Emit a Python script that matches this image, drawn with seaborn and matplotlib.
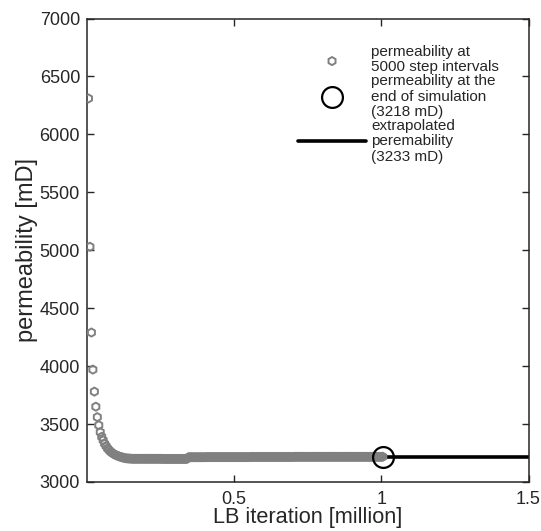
import numpy as np
import pandas as pd
import matplotlib
matplotlib.use('Agg')
import matplotlib.pyplot as plt
import seaborn as sns

# permeability sampled every 5000 LB steps (x in million steps)
steps = np.arange(1, 202) * 5000 / 1e6
perm = [
    6310, 5030, 4290, 3970, 3780, 3650, 3560, 3490, 3430, 3390,
    3360, 3330, 3310, 3290, 3275, 3262, 3252, 3243, 3236, 3230,
    3225, 3220, 3216, 3212, 3209, 3206, 3204, 3203, 3202, 3201,
    3200, 3200, 3200, 3200, 3200, 3200, 3200, 3200, 3200, 3200,
    3200, 3200, 3200, 3200, 3200, 3200, 3200, 3200, 3200, 3200,
    3199, 3199, 3199, 3199, 3199, 3199, 3199, 3199, 3199, 3199,
    3199, 3199, 3199, 3199, 3199, 3199, 3199, 3200, 3214, 3214,
    3214, 3214, 3214, 3214, 3214, 3214, 3214, 3214, 3214, 3214,
    3215, 3215, 3215, 3215, 3215, 3215, 3215, 3215, 3215, 3215,
    3215, 3215, 3215, 3215, 3215, 3215, 3215, 3215, 3215, 3215,
    3215, 3215, 3215, 3215, 3215, 3215, 3215, 3215, 3215, 3215,
    3216, 3216, 3216, 3216, 3216, 3216, 3216, 3216, 3216, 3216,
    3216, 3216, 3216, 3216, 3216, 3216, 3216, 3216, 3216, 3216,
    3216, 3216, 3216, 3216, 3216, 3216, 3216, 3216, 3216, 3216,
    3217, 3217, 3217, 3217, 3217, 3217, 3217, 3217, 3217, 3217,
    3217, 3217, 3217, 3217, 3217, 3217, 3217, 3217, 3217, 3217,
    3217, 3217, 3217, 3217, 3217, 3217, 3217, 3217, 3217, 3217,
    3217, 3217, 3217, 3217, 3217, 3217, 3217, 3217, 3217, 3217,
    3217, 3217, 3217, 3217, 3217, 3217, 3217, 3217, 3217, 3217,
    3217, 3217, 3217, 3217, 3217, 3217, 3217, 3217, 3217, 3217,
    3218,
]
end_x = [1.005]
end_perm = [3218]
extrap_x = [0.947, 1.5]
extrap_perm = [3218, 3218]

xticks = [0.5, 1, 1.5]
xticklabels = ['0.5', '1', '1.5']
yticks = [3000, 3500, 4000, 4500, 5000, 5500, 6000, 6500, 7000]

df = pd.DataFrame({'x': steps, 'k': perm})

sns.set_style("ticks")
plt.rcParams['font.family'] = ['Liberation Sans', 'DejaVu Sans']

fig = plt.figure(figsize=(5.41, 5.31), dpi=100)
ax = fig.add_axes([87 / 541, 49 / 531, 441.5 / 541, 463.5 / 531])

sns.scatterplot(data=df, x='x', y='k', ax=ax, marker='h', s=34,
                facecolors='none', edgecolor=(0.5, 0.5, 0.5), linewidth=1.4,
                label='permeability at\n5000 step intervals', zorder=3)
ax.plot(end_x, end_perm, 'o', ms=15, mfc='none', mec='black', mew=1.6,
        label='permeability at the\nend of simulation\n(3218 mD)', zorder=4)
ax.plot(extrap_x, extrap_perm, color='black', lw=2.6,
        label='extrapolated\nperemability\n(3233 mD)', zorder=2)

ax.set_xlim(0, 1.5)
ax.set_ylim(3000, 7000)
ax.set_xticks(xticks)
ax.set_xticklabels(xticklabels)
ax.set_yticks(yticks)
ax.set_xlabel('LB iteration [million]', fontsize=15.7, labelpad=-1)
ax.set_ylabel('permeability [mD]', fontsize=17, labelpad=1)
ax.tick_params(direction='in', length=5, width=1, labelsize=13,
               top=True, right=True, colors=(0.15, 0.15, 0.15))
ax.tick_params(axis='x', pad=6.5)
ax.tick_params(axis='y', pad=5)
for s in ax.spines.values():
    s.set_visible(True)
    s.set_linewidth(1.1)
    s.set_color((0.15, 0.15, 0.15))

leg = ax.legend(loc='upper left', bbox_to_anchor=(0.478, 0.943), frameon=False,
                fontsize=11, handlelength=4.45, handletextpad=0.35,
                labelspacing=0.0, borderpad=0, borderaxespad=0, scatterpoints=1)
for t in leg.get_texts():
    t.set_linespacing(1.12)

fig.savefig('out.png', dpi=100)
